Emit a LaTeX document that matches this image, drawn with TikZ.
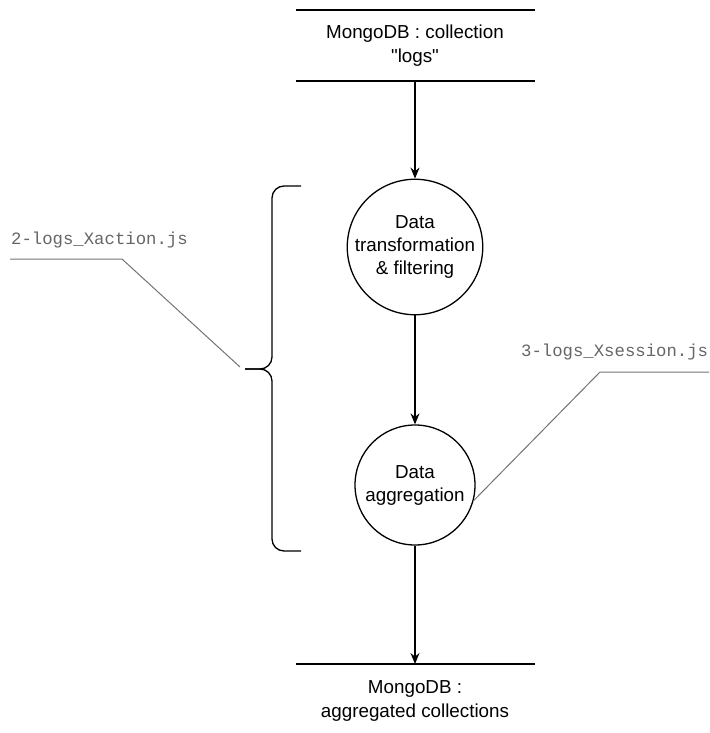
\documentclass[tikz,border=0pt]{standalone}
\usepackage{fontspec}
\setmainfont{Liberation Sans}
\setmonofont{Liberation Mono}
\newfontfamily\plainsans{Liberation Sans}
\usetikzlibrary{arrows.meta}
\begin{document}
\begin{tikzpicture}[x=1pt,y=-1pt,
  proc/.style={circle,draw,line width=1.3pt,minimum size=120pt,inner sep=0pt,align=center,font=\fontsize{18.8}{23}\selectfont},
  lbl/.style={align=center,font=\plainsans\fontsize{18.8}{24}\selectfont,inner sep=0pt},
  store/.style={line width=1.3pt},
  flow/.style={line width=1.3pt,-{Stealth[length=11pt,width=9pt]}},
  call/.style={draw=black!55,line width=1pt},
  calltext/.style={text=black!60,font=\ttfamily\fontsize{17.3}{18}\selectfont,inner sep=0pt,anchor=west}]
\useasboundingbox (0,0) rectangle (709,733);
% top store
\draw[store] (296,10) -- (535,10);
\draw[store] (296,81) -- (535,81);
\coordinate (tb) at (415,81);
\node[lbl] (top) at (415,46) {MongoDB : collection\\"logs"};
% bottom store
\draw[store] (296,664) -- (535,664);
\coordinate (bt) at (415,664);
\node[lbl] (bot) at (415,701) {MongoDB :\\aggregated collections};
% processes
\node[proc] (c1) at (415,247) {Data\\transformation\\\& filtering};
\node[proc] (c2) at (415,485) {Data\\aggregation};
\draw[flow] (tb) -- (c1.north);
\draw[flow] (c1.south) -- (c2.north);
\draw[flow] (c2.south) -- (bt);
% brace
\draw[line width=1.3pt,rounded corners=12pt] (301,186) -- (272,186) -- (272,369) -- (245,369);
\draw[line width=1.3pt,rounded corners=12pt] (301,551) -- (272,551) -- (272,369) -- (245,369);
\coordinate (bracetip) at (240,367);
% callouts
\node[calltext] (n1) at (11,240) {2-logs\_Xaction.js};
\coordinate (n1a) at (10,259);
\coordinate (n1b) at (122,259);
\draw[call] (n1a) -- (n1b) -- (bracetip);
\node[calltext] (n2) at (521,352) {3-logs\_Xsession.js};
\coordinate (n2a) at (709,372);
\coordinate (n2b) at (600,372);
\draw[call] (n2a) -- (n2b) -- (c2.-15);
\end{tikzpicture}
\end{document}
